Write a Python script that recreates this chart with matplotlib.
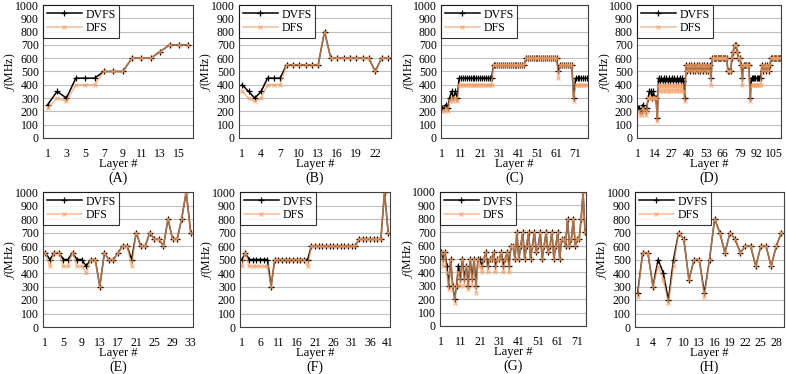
import numpy as np
import matplotlib
matplotlib.use('Agg')
import matplotlib.pyplot as plt

plt.rcParams['font.family'] = 'Liberation Serif'
plt.rcParams['mathtext.fontset'] = 'stix'

# ---- data (MHz per layer) ----
a_dvfs = [250, 350, 300, 450, 450, 450, 500, 500, 500, 600, 600, 600, 650, 700, 700, 700]
a_dfs = [225, 300, 275, 400, 400, 400, 500, 500, 500, 600, 600, 600, 650, 700, 700, 700]

b_dvfs = [400, 350, 300, 350, 450, 450, 450, 550, 550, 550, 550, 550, 550, 800, 600, 600,
          600, 600, 600, 600, 600, 500, 600, 600]
b_dfs = [350, 300, 275, 300, 400, 400, 400, 550, 550, 550, 550, 550, 550, 800, 600, 600,
         600, 600, 600, 600, 600, 500, 600, 600]

c_dvfs = [225, 225, 250, 225, 300, 350, 300, 350, 300, 450,
          450, 450, 450, 450, 450, 450, 450, 450, 450, 450,
          450, 450, 450, 450, 450, 450, 450, 550, 550, 550,
          550, 550, 550, 550, 550, 550, 550, 550, 550, 550,
          550, 550, 550, 550, 600, 600, 600, 600, 600, 600,
          600, 600, 600, 600, 600, 600, 600, 600, 600, 600,
          600, 500, 550, 550, 550, 550, 550, 550, 550, 300,
          450, 450, 450, 450, 450, 450, 450]
c_dfs = [200, 200, 225, 200, 275, 300, 275, 300, 275, 400,
         400, 400, 400, 400, 400, 400, 400, 400, 400, 400,
         400, 400, 400, 400, 400, 400, 400, 550, 550, 550,
         550, 550, 550, 550, 550, 550, 550, 550, 550, 550,
         550, 550, 550, 550, 600, 600, 600, 600, 600, 600,
         600, 600, 600, 600, 600, 600, 600, 600, 600, 600,
         600, 450, 550, 550, 550, 550, 550, 550, 550, 275,
         400, 400, 400, 400, 400, 400, 400]

d_dvfs = [225, 225, 200, 200, 250, 225, 200, 225, 300, 350,
          350, 300, 350, 300, 300, 150, 450, 425, 450, 425,
          450, 425, 450, 425, 450, 425, 450, 425, 450, 425,
          450, 425, 450, 425, 450, 425, 300, 550, 500, 550,
          500, 550, 500, 550, 500, 550, 500, 550, 500, 550,
          500, 550, 500, 550, 500, 550, 450, 600, 600, 600,
          600, 600, 600, 600, 600, 600, 600, 600, 600, 500,
          500, 500, 600, 650, 700, 700, 650, 600, 600, 550,
          450, 550, 550, 550, 550, 550, 300, 450, 450, 450,
          450, 450, 450, 450, 450, 550, 500, 550, 500, 550,
          500, 550, 600, 600, 600, 600, 600, 600, 600, 600]
d_dfs = [200, 200, 175, 175, 225, 200, 175, 200, 300, 300,
         300, 300, 300, 300, 300, 125, 400, 350, 400, 350,
         400, 350, 400, 350, 400, 350, 400, 350, 400, 350,
         400, 350, 400, 350, 400, 350, 275, 550, 500, 550,
         500, 550, 500, 550, 500, 550, 500, 550, 500, 550,
         500, 550, 500, 550, 500, 550, 400, 600, 600, 600,
         600, 600, 600, 600, 600, 600, 600, 600, 600, 500,
         500, 500, 600, 650, 700, 700, 650, 600, 600, 550,
         400, 550, 550, 550, 550, 550, 275, 400, 400, 400,
         400, 400, 400, 400, 400, 550, 500, 550, 500, 550,
         500, 550, 600, 600, 600, 600, 600, 600, 600, 600]

e_dvfs = [550, 500, 550, 550, 500, 500, 550, 500, 500, 450, 500, 500, 300, 550, 500, 500, 550,
          600, 600, 500, 700, 600, 600, 700, 650, 650, 600, 800, 650, 650, 800, 1000, 700]
e_dfs = [550, 450, 550, 550, 450, 450, 550, 450, 450, 400, 500, 500, 300, 550, 500, 500, 550,
         600, 600, 450, 700, 600, 600, 700, 650, 650, 600, 800, 650, 650, 800, 1000, 700]

f_dvfs = [500, 550, 500, 500, 500, 500, 500, 500, 300, 500,
          500, 500, 500, 500, 500, 500, 500, 500, 500, 600,
          600, 600, 600, 600, 600, 600, 600, 600, 600, 600,
          600, 600, 650, 650, 650, 650, 650, 650, 650, 1000, 700]
f_dfs = [450, 550, 450, 450, 450, 450, 450, 450, 300, 500,
         500, 500, 500, 500, 500, 500, 500, 500, 450, 600,
         600, 600, 600, 600, 600, 600, 600, 600, 600, 600,
         600, 600, 650, 650, 650, 650, 650, 650, 650, 1000, 700]

g_dvfs = [550, 500, 550, 450, 300, 500, 300, 200, 300, 450,
          350, 500, 350, 450, 300, 500, 350, 500, 300, 500,
          500, 450, 500, 550, 450, 500, 500, 550, 450, 500,
          500, 550, 450, 500, 550, 450,
          600, 600, 500, 700, 500, 600, 700, 500, 600, 700,
          500, 600, 700, 550, 600, 700, 500, 600, 700, 550,
          600, 700, 500, 600, 700, 500,
          650, 650, 600, 800, 600, 650, 800, 600, 650, 650, 800, 1000, 700]
g_dfs = [550, 450, 550, 400, 275, 500, 300, 175, 300, 400,
         300, 500, 300, 450, 275, 500, 300, 500, 250, 500,
         450, 400, 500, 550, 400, 500, 500, 550, 400, 500,
         500, 550, 400, 500, 550, 400,
         600, 600, 500, 700, 500, 600, 700, 500, 600, 700,
         500, 600, 700, 550, 600, 700, 500, 600, 700, 550,
         600, 700, 500, 600, 700, 500,
         650, 650, 600, 800, 600, 650, 800, 600, 650, 650, 800, 1000, 700]

h_dvfs = [250, 550, 550, 300, 500, 400, 200, 500, 700, 650, 350, 500, 500, 250, 500,
          800, 700, 550, 700, 650, 550, 600, 600, 450, 600, 600, 450, 600, 700]
h_dfs = [225, 550, 550, 300, 450, 350, 175, 450, 700, 650, 350, 500, 500, 225, 500,
         800, 700, 550, 700, 650, 550, 600, 600, 450, 600, 600, 450, 600, 700]

panels = [
    ('(A)', a_dvfs, a_dfs, 2, (43, 193, 5, 138)),
    ('(B)', b_dvfs, b_dfs, 3, (239, 391, 5, 138)),
    ('(C)', c_dvfs, c_dfs, 10, (441, 588, 5, 138)),
    ('(D)', d_dvfs, d_dfs, 13, (637, 781, 5, 138)),
    ('(E)', e_dvfs, e_dfs, 4, (43, 193, 192, 327)),
    ('(F)', f_dvfs, f_dfs, 5, (240, 390, 192, 327)),
    ('(G)', g_dvfs, g_dfs, 10, (440, 586, 192, 326)),
    ('(H)', h_dvfs, h_dfs, 3, (635, 784, 192, 327)),
]

W, H = 786, 374
fig = plt.figure(figsize=(W / 100, H / 100), dpi=100)

for name, dvfs, dfs, step, (l, r, t, b) in panels:
    ax = fig.add_axes([l / W, 1 - b / H, (r - l) / W, (b - t) / H])
    x = np.arange(1, len(dvfs) + 1)
    ax.plot(x, dvfs, color='k', lw=1.1, marker='+', ms=4, mew=0.9, label='DVFS')
    ax.plot(x, dfs, color='#F4A066', alpha=0.7, lw=1.1, marker='x', ms=3.5, mew=0.9, label='DFS')
    ax.set_xlim(0.5, len(dvfs) + 0.5)
    ax.set_ylim(0, 1000)
    ax.set_yticks(np.arange(0, 1001, 100))
    ax.set_xticks(np.arange(1, len(dvfs) + 1, step))
    ax.tick_params(length=0, labelsize=8.5)
    ax.tick_params(axis='x', pad=7)
    ax.tick_params(axis='y', pad=3)
    ax.grid(axis='y', color='#BFBFBF', lw=0.8)
    ax.set_axisbelow(True)
    for s in ax.spines.values():
        s.set_linewidth(0.8)
        s.set_color('#404040')
    ax.set_ylabel('$f$(MHz)', fontsize=8.5)
    ax.yaxis.set_label_coords(-0.165, 0.5)
    ax.set_xlabel('Layer #', fontsize=9, labelpad=-1)
    ax.text(0.5, -0.3, name, transform=ax.transAxes, ha='center', va='center', fontsize=10)
    leg = ax.legend(loc='upper left', fontsize=8.5, frameon=True, fancybox=False,
                    borderaxespad=0, handlelength=3, borderpad=0.3, labelspacing=0.15,
                    handletextpad=0.3)
    leg.get_frame().set_edgecolor('k')
    leg.get_frame().set_linewidth(0.8)

fig.savefig('out.png', dpi=100)
